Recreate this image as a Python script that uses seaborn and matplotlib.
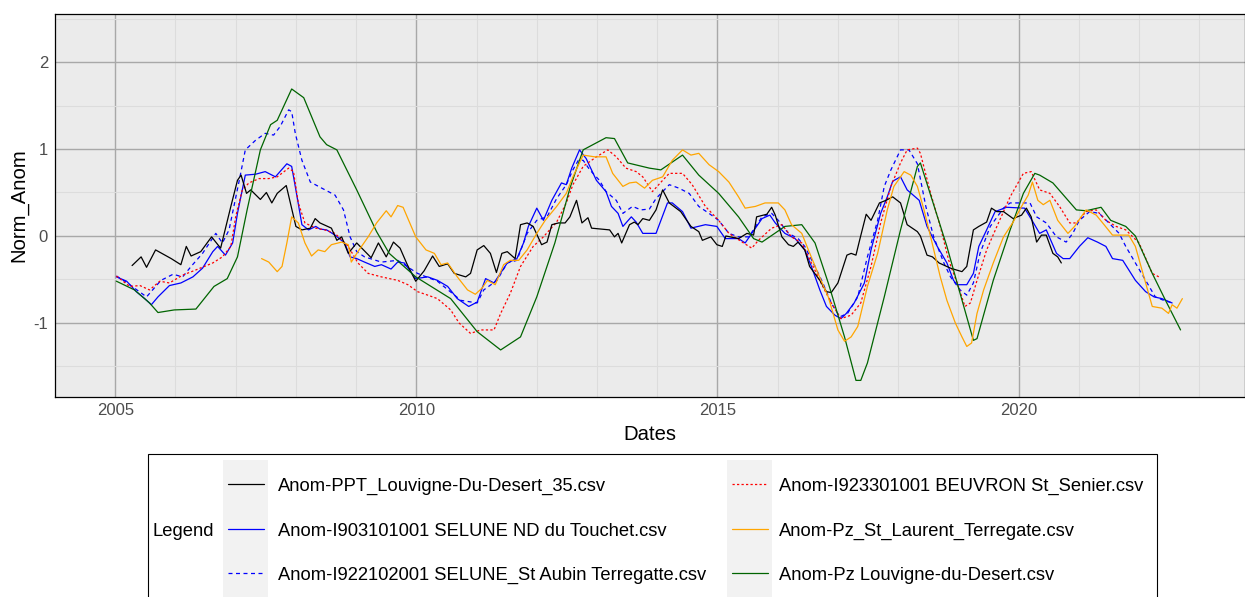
import numpy as np
import pandas as pd
import matplotlib
matplotlib.use("Agg")
import matplotlib.pyplot as plt
import seaborn as sns
from matplotlib.lines import Line2D
from matplotlib.patches import Rectangle

# ---------------- data (decimal years, normalised anomalies) ----------------
series_names = [
    "Anom-PPT_Louvigne-Du-Desert_35.csv",
    "Anom-I903101001 SELUNE ND du Touchet.csv",
    "Anom-I922102001 SELUNE_St Aubin Terregatte.csv",
    "Anom-I923301001 BEUVRON St_Senier.csv",
    "Anom-Pz_St_Laurent_Terregate.csv",
    "Anom-Pz Louvigne-du-Desert.csv",
]

ppt_x = [2005.28, 2005.43, 2005.52, 2005.67, 2005.93, 2006.09, 2006.18, 2006.26, 2006.42, 2006.60,
         2006.75, 2006.92, 2007.03, 2007.09, 2007.18, 2007.25, 2007.41, 2007.51, 2007.60, 2007.69,
         2007.84, 2008.00, 2008.10, 2008.24, 2008.32, 2008.40, 2008.59, 2008.68, 2008.76, 2008.87,
         2009.01, 2009.25, 2009.37, 2009.50, 2009.62, 2009.73, 2009.85, 2009.99, 2010.13, 2010.27,
         2010.38, 2010.52, 2010.63, 2010.82, 2010.90, 2011.01, 2011.12, 2011.23, 2011.33, 2011.42,
         2011.51, 2011.64, 2011.73, 2011.84, 2011.94, 2012.08, 2012.17, 2012.25, 2012.36, 2012.47,
         2012.55, 2012.66, 2012.75, 2012.85, 2012.91, 2013.21, 2013.29, 2013.35, 2013.41, 2013.54,
         2013.62, 2013.68, 2013.76, 2013.87, 2013.98, 2014.09, 2014.20, 2014.39, 2014.56, 2014.69,
         2014.75, 2014.89, 2014.99, 2015.08, 2015.14, 2015.35, 2015.49, 2015.60, 2015.65, 2015.82,
         2015.90, 2015.96, 2016.07, 2016.18, 2016.26, 2016.34, 2016.45, 2016.53, 2016.70, 2016.81,
         2016.89, 2017.00, 2017.15, 2017.22, 2017.30, 2017.36, 2017.47, 2017.55, 2017.69, 2017.80,
         2017.91, 2018.04, 2018.15, 2018.32, 2018.37, 2018.48, 2018.57, 2018.68, 2018.87, 2019.06,
         2019.14, 2019.25, 2019.34, 2019.47, 2019.55, 2019.64, 2019.75, 2019.91, 2020.05, 2020.13,
         2020.21, 2020.30, 2020.38, 2020.46, 2020.57, 2020.65, 2020.71]
ppt_y = [-0.34, -0.24, -0.36, -0.16, -0.26, -0.33, -0.12, -0.23, -0.18, -0.01,
         -0.14, 0.34, 0.64, 0.70, 0.49, 0.53, 0.42, 0.50, 0.38, 0.49,
         0.58, 0.11, 0.07, 0.09, 0.20, 0.15, 0.09, -0.05, -0.01, -0.20,
         -0.08, -0.25, -0.08, -0.24, -0.07, -0.14, -0.33, -0.52, -0.40, -0.23,
         -0.35, -0.32, -0.43, -0.47, -0.43, -0.16, -0.11, -0.20, -0.42, -0.20,
         -0.18, -0.26, 0.13, 0.15, 0.11, -0.10, -0.07, 0.13, 0.15, 0.15,
         0.22, 0.41, 0.15, 0.21, 0.09, 0.07, -0.01, 0.03, -0.08, 0.13,
         0.16, 0.13, 0.20, 0.18, 0.30, 0.53, 0.38, 0.28, 0.11, 0.05,
         -0.05, -0.01, -0.10, -0.12, 0.00, -0.03, 0.03, 0.01, 0.22, 0.25,
         0.33, 0.24, -0.01, -0.10, -0.12, -0.07, -0.16, -0.35, -0.51, -0.64,
         -0.65, -0.54, -0.22, -0.20, -0.22, -0.05, 0.25, 0.18, 0.38, 0.41,
         0.45, 0.38, 0.13, 0.05, 0.00, -0.22, -0.24, -0.31, -0.37, -0.41,
         -0.35, 0.07, 0.11, 0.16, 0.32, 0.28, 0.28, 0.20, 0.24, 0.32,
         0.22, -0.07, 0.01, 0.01, -0.20, -0.24, -0.31]

nd_x = [2005.02, 2005.19, 2005.35, 2005.49, 2005.60, 2005.71, 2005.90, 2006.09, 2006.29, 2006.45,
        2006.62, 2006.70, 2006.83, 2006.95, 2007.03, 2007.16, 2007.33, 2007.49, 2007.66, 2007.85,
        2007.93, 2008.02, 2008.10, 2008.21, 2008.33, 2008.40, 2008.51, 2008.65, 2008.81, 2008.90,
        2009.01, 2009.14, 2009.31, 2009.42, 2009.58, 2009.69, 2009.80, 2009.99, 2010.19, 2010.35,
        2010.52, 2010.68, 2010.87, 2011.01, 2011.15, 2011.29, 2011.51, 2011.67, 2011.78, 2011.86,
        2012.00, 2012.11, 2012.25, 2012.41, 2012.49, 2012.58, 2012.71, 2012.82, 2012.99, 2013.15,
        2013.24, 2013.35, 2013.43, 2013.57, 2013.65, 2013.76, 2013.98, 2014.17, 2014.25, 2014.42,
        2014.56, 2014.80, 2014.99, 2015.13, 2015.35, 2015.46, 2015.57, 2015.74, 2015.87, 2015.96,
        2016.12, 2016.29, 2016.45, 2016.56, 2016.70, 2016.81, 2016.95, 2017.05, 2017.14, 2017.27,
        2017.44, 2017.55, 2017.71, 2017.82, 2017.91, 2018.04, 2018.15, 2018.35, 2018.48, 2018.65,
        2018.81, 2018.92, 2018.98, 2019.14, 2019.25, 2019.34, 2019.47, 2019.61, 2019.80, 2020.10,
        2020.24, 2020.35, 2020.46, 2020.63, 2020.74, 2020.85, 2021.01, 2021.15, 2021.31, 2021.45,
        2021.56, 2021.73, 2021.94, 2022.11, 2022.25, 2022.38, 2022.55]
nd_y = [-0.47, -0.52, -0.64, -0.72, -0.79, -0.70, -0.57, -0.54, -0.47, -0.37,
        -0.18, -0.12, -0.22, -0.08, 0.26, 0.70, 0.71, 0.74, 0.68, 0.83,
        0.80, 0.45, 0.13, 0.07, 0.11, 0.08, 0.07, 0.01, -0.08, -0.24,
        -0.26, -0.30, -0.35, -0.33, -0.38, -0.30, -0.31, -0.49, -0.47, -0.51,
        -0.58, -0.72, -0.81, -0.76, -0.49, -0.54, -0.31, -0.26, -0.08, 0.11,
        0.32, 0.18, 0.41, 0.61, 0.59, 0.78, 0.99, 0.89, 0.64, 0.51,
        0.34, 0.26, 0.11, 0.22, 0.16, 0.03, 0.03, 0.38, 0.38, 0.28,
        0.09, 0.13, 0.11, -0.03, -0.03, -0.08, 0.03, 0.20, 0.24, 0.15,
        0.03, -0.03, -0.16, -0.35, -0.62, -0.81, -0.91, -0.95, -0.89, -0.77,
        -0.54, -0.16, 0.26, 0.45, 0.63, 0.68, 0.53, 0.41, 0.11, -0.12,
        -0.31, -0.51, -0.56, -0.56, -0.43, -0.12, 0.07, 0.28, 0.33, 0.32,
        0.16, 0.03, 0.07, -0.20, -0.26, -0.26, -0.12, -0.02, -0.07, -0.12,
        -0.26, -0.28, -0.51, -0.64, -0.70, -0.72, -0.77]

sa_x = [2005.02, 2005.18, 2005.52, 2005.76, 2005.96, 2006.12, 2006.26, 2006.45, 2006.67, 2006.78,
        2006.89, 2007.06, 2007.16, 2007.33, 2007.49, 2007.63, 2007.74, 2007.88, 2007.93, 2007.99,
        2008.10, 2008.24, 2008.43, 2008.65, 2008.79, 2008.90, 2009.01, 2009.14, 2009.42, 2009.69,
        2010.02, 2010.35, 2010.74, 2011.01, 2011.12, 2011.34, 2011.51, 2011.67, 2011.84, 2012.00,
        2012.17, 2012.33, 2012.49, 2012.60, 2012.69, 2012.77, 2012.88, 2013.04, 2013.15, 2013.32,
        2013.43, 2013.59, 2013.73, 2013.87, 2013.98, 2014.20, 2014.36, 2014.53, 2014.69, 2014.86,
        2015.02, 2015.19, 2015.35, 2015.52, 2015.74, 2015.90, 2016.01, 2016.18, 2016.34, 2016.45,
        2016.62, 2016.75, 2016.89, 2017.03, 2017.16, 2017.33, 2017.49, 2017.66, 2017.77, 2017.88,
        2018.04, 2018.18, 2018.32, 2018.46, 2018.59, 2018.76, 2018.87, 2019.03, 2019.14, 2019.25,
        2019.36, 2019.53, 2019.75, 2019.86, 2020.02, 2020.19, 2020.30, 2020.46, 2020.63, 2020.79,
        2020.90, 2021.01, 2021.18, 2021.34, 2021.50, 2021.67, 2021.78, 2021.94, 2022.11, 2022.27,
        2022.41, 2022.55]
sa_y = [-0.46, -0.53, -0.70, -0.51, -0.44, -0.47, -0.35, -0.20, 0.03, -0.08,
        0.07, 0.64, 0.99, 1.10, 1.18, 1.16, 1.26, 1.45, 1.43, 1.18,
        0.87, 0.62, 0.55, 0.47, 0.30, -0.01, -0.18, -0.24, -0.30, -0.28,
        -0.43, -0.52, -0.74, -0.77, -0.62, -0.51, -0.31, -0.28, 0.03, 0.18,
        0.22, 0.43, 0.59, 0.76, 0.87, 0.87, 0.76, 0.64, 0.51, 0.41,
        0.26, 0.34, 0.30, 0.31, 0.43, 0.59, 0.55, 0.49, 0.34, 0.26,
        0.18, 0.03, -0.01, -0.01, 0.22, 0.26, 0.18, 0.03, -0.03, -0.12,
        -0.35, -0.54, -0.77, -0.93, -0.89, -0.70, -0.24, 0.18, 0.57, 0.76,
        0.99, 0.99, 0.83, 0.34, -0.01, -0.31, -0.47, -0.62, -0.68, -0.54,
        -0.20, 0.11, 0.32, 0.38, 0.38, 0.38, 0.22, 0.15, -0.01, -0.07,
        0.03, 0.18, 0.28, 0.26, 0.15, 0.03, -0.12, -0.31, -0.51, -0.70,
        -0.74, -0.77]

bv_x = [2005.02, 2005.24, 2005.41, 2005.57, 2005.74, 2005.90, 2006.12, 2006.34, 2006.62, 2006.78,
        2006.92, 2007.00, 2007.11, 2007.22, 2007.39, 2007.55, 2007.69, 2007.88, 2007.96, 2008.04,
        2008.15, 2008.33, 2008.48, 2008.65, 2008.87, 2009.03, 2009.20, 2009.42, 2009.69, 2009.86,
        2010.02, 2010.19, 2010.35, 2010.57, 2010.71, 2010.90, 2011.07, 2011.29, 2011.40, 2011.56,
        2011.73, 2011.94, 2012.11, 2012.33, 2012.49, 2012.60, 2012.77, 2012.99, 2013.18, 2013.32,
        2013.48, 2013.65, 2013.76, 2013.92, 2014.09, 2014.20, 2014.42, 2014.58, 2014.80, 2015.02,
        2015.19, 2015.41, 2015.57, 2015.68, 2015.90, 2016.07, 2016.23, 2016.40, 2016.56, 2016.72,
        2016.89, 2017.05, 2017.22, 2017.38, 2017.55, 2017.71, 2017.88, 2018.04, 2018.15, 2018.32,
        2018.37, 2018.54, 2018.70, 2018.84, 2018.98, 2019.11, 2019.20, 2019.31, 2019.47, 2019.64,
        2019.86, 2020.08, 2020.21, 2020.35, 2020.52, 2020.68, 2020.85, 2020.96, 2021.12, 2021.29,
        2021.45, 2021.62, 2021.78, 2022.00, 2022.22, 2022.33]
bv_y = [-0.46, -0.58, -0.57, -0.62, -0.52, -0.54, -0.45, -0.39, -0.31, -0.24,
        -0.12, 0.22, 0.53, 0.61, 0.66, 0.66, 0.68, 0.78, 0.74, 0.38,
        0.15, 0.09, 0.07, 0.03, -0.12, -0.31, -0.43, -0.47, -0.51, -0.56,
        -0.64, -0.68, -0.72, -0.85, -1.00, -1.12, -1.08, -1.08, -0.89, -0.66,
        -0.35, -0.12, -0.01, 0.16, 0.38, 0.59, 0.80, 0.91, 0.99, 0.91,
        0.78, 0.74, 0.68, 0.51, 0.64, 0.72, 0.72, 0.59, 0.34, 0.18,
        0.03, -0.07, -0.14, -0.05, 0.09, 0.13, -0.01, -0.08, -0.31, -0.54,
        -0.77, -0.95, -0.91, -0.77, -0.35, 0.15, 0.57, 0.84, 0.99, 1.01,
        0.95, 0.49, 0.11, -0.28, -0.54, -0.81, -0.77, -0.51, -0.16, 0.11,
        0.45, 0.72, 0.74, 0.53, 0.49, 0.34, 0.15, 0.15, 0.28, 0.30,
        0.18, 0.11, 0.07, -0.08, -0.43, -0.47]

sl_x = [2007.43, 2007.55, 2007.69, 2007.77, 2007.85, 2007.93, 2008.04, 2008.15, 2008.26, 2008.37,
        2008.48, 2008.59, 2008.76, 2008.87, 2008.92, 2009.03, 2009.20, 2009.34, 2009.50, 2009.58,
        2009.69, 2009.78, 2009.99, 2010.16, 2010.30, 2010.41, 2010.52, 2010.68, 2010.85, 2010.98,
        2011.09, 2011.18, 2011.31, 2011.45, 2011.56, 2011.70, 2011.84, 2012.00, 2012.14, 2012.33,
        2012.49, 2012.60, 2012.77, 2012.96, 2013.15, 2013.26, 2013.43, 2013.54, 2013.65, 2013.79,
        2013.92, 2014.09, 2014.25, 2014.42, 2014.56, 2014.69, 2014.86, 2015.02, 2015.19, 2015.35,
        2015.46, 2015.63, 2015.79, 2016.01, 2016.12, 2016.23, 2016.40, 2016.51, 2016.67, 2016.84,
        2017.00, 2017.11, 2017.22, 2017.33, 2017.49, 2017.66, 2017.82, 2017.93, 2018.10, 2018.21,
        2018.32, 2018.43, 2018.54, 2018.70, 2018.81, 2018.95, 2019.06, 2019.14, 2019.22, 2019.31,
        2019.42, 2019.58, 2019.75, 2019.91, 2020.05, 2020.16, 2020.23, 2020.32, 2020.41, 2020.52,
        2020.65, 2020.82, 2020.93, 2021.12, 2021.29, 2021.42, 2021.56, 2021.83, 2021.94, 2022.11,
        2022.22, 2022.38, 2022.49, 2022.55, 2022.63, 2022.72]
sl_y = [-0.26, -0.30, -0.41, -0.35, -0.08, 0.22, 0.15, -0.08, -0.23, -0.16,
        -0.18, -0.10, -0.07, -0.10, -0.30, -0.18, -0.01, 0.15, 0.29, 0.22,
        0.35, 0.33, -0.01, -0.16, -0.20, -0.33, -0.31, -0.47, -0.62, -0.67,
        -0.60, -0.51, -0.56, -0.33, -0.28, -0.28, -0.16, 0.03, 0.18, 0.34,
        0.49, 0.68, 0.93, 0.91, 0.91, 0.72, 0.57, 0.61, 0.62, 0.55,
        0.64, 0.68, 0.87, 0.99, 0.93, 0.95, 0.82, 0.74, 0.62, 0.45,
        0.32, 0.34, 0.38, 0.38, 0.30, 0.13, 0.03, -0.16, -0.43, -0.70,
        -1.08, -1.21, -1.16, -1.04, -0.58, -0.20, 0.30, 0.57, 0.74, 0.70,
        0.57, 0.30, -0.01, -0.47, -0.74, -1.00, -1.16, -1.27, -1.23, -0.89,
        -0.62, -0.31, -0.01, 0.16, 0.34, 0.47, 0.62, 0.41, 0.36, 0.41,
        0.18, 0.03, 0.11, 0.30, 0.24, 0.13, 0.01, 0.01, -0.12, -0.54,
        -0.81, -0.83, -0.89, -0.79, -0.83, -0.72]

pz_x = [2005.02, 2005.32, 2005.57, 2005.71, 2005.98, 2006.34, 2006.64, 2006.86, 2007.03, 2007.19,
        2007.41, 2007.58, 2007.69, 2007.93, 2008.13, 2008.40, 2008.51, 2008.68, 2009.01, 2009.34,
        2009.55, 2009.99, 2010.57, 2011.01, 2011.40, 2011.73, 2012.00, 2012.30, 2012.55, 2012.77,
        2013.15, 2013.29, 2013.51, 2013.87, 2014.06, 2014.42, 2014.69, 2015.02, 2015.35, 2015.60,
        2015.74, 2016.12, 2016.40, 2016.62, 2016.84, 2017.11, 2017.30, 2017.38, 2017.49, 2017.77,
        2018.04, 2018.32, 2018.37, 2018.81, 2018.98, 2019.25, 2019.31, 2019.58, 2019.86, 2020.08,
        2020.27, 2020.35, 2020.57, 2020.96, 2021.12, 2021.37, 2021.53, 2021.78, 2021.94, 2022.22,
        2022.44, 2022.69]
pz_y = [-0.52, -0.62, -0.77, -0.88, -0.85, -0.84, -0.58, -0.49, -0.24, 0.30,
        0.99, 1.28, 1.33, 1.69, 1.59, 1.14, 1.05, 0.99, 0.53, 0.05,
        -0.20, -0.47, -0.72, -1.10, -1.31, -1.16, -0.70, -0.08, 0.55, 0.99,
        1.13, 1.12, 0.84, 0.78, 0.76, 0.93, 0.70, 0.49, 0.22, -0.03,
        -0.07, 0.11, 0.13, -0.08, -0.54, -1.16, -1.66, -1.66, -1.46, -0.70,
        0.07, 0.80, 0.84, -0.12, -0.54, -1.20, -1.18, -0.51, 0.07, 0.49,
        0.72, 0.70, 0.61, 0.30, 0.29, 0.33, 0.18, 0.11, 0.00, -0.43,
        -0.74, -1.08]

x_ticks = [2005, 2010, 2015, 2020]
x_tick_labels = ["2005", "2010", "2015", "2020"]
y_ticks = [-1, 0, 1, 2]
y_tick_labels = ["-1", "0", "1", "2"]

series_x = [ppt_x, nd_x, sa_x, bv_x, sl_x, pz_x]
series_y = [ppt_y, nd_y, sa_y, bv_y, sl_y, pz_y]

frames = []
for name, xs, ys in zip(series_names, series_x, series_y):
    frames.append(pd.DataFrame({"Dates": xs, "Norm_Anom": ys, "Legend": name}))
df = pd.concat(frames, ignore_index=True)

# ---------------- styling ----------------
colors = ["#000000", "#0000FF", "#0000FF", "#FF0000", "#FFA500", "#006400"]
dashes = [None, None, (3.2, 2.8), (1.8, 1.8), None, None]
LW = 0.9

sns.set_theme(style="darkgrid")
plt.rcParams["font.family"] = ["Liberation Sans", "DejaVu Sans"]

W, H = 1245, 597
fig = plt.figure(figsize=(W / 100, H / 100), dpi=100)
fig.patch.set_facecolor("white")


def fx(px):
    return px / W


def fy(py):
    return 1 - py / H


ax = fig.add_axes([fx(55), fy(397), fx(1245) - fx(55), fy(14) - fy(397)])
ax.set_facecolor("#EBEBEB")

draw_order = [1, 2, 3, 0, 5, 4]
for i in draw_order:
    sub = df[df["Legend"] == series_names[i]]
    kws = {}
    if dashes[i] is not None:
        kws["linestyle"] = (0, dashes[i])
    sns.lineplot(data=sub, x="Dates", y="Norm_Anom", ax=ax, color=colors[i],
                 linewidth=LW, estimator=None, sort=False, legend=False, **kws)

ax.set_xlim(2004.14, 2023.76)
ax.set_ylim(-1.851, 2.552)
ax.set_xticks(x_ticks)
ax.set_xticklabels(x_tick_labels)
ax.set_xticks(np.arange(2004, 2024), minor=True)
ax.set_yticks(y_ticks)
ax.set_yticklabels(y_tick_labels)
ax.set_yticks([-1.5, -0.5, 0.5, 1.5, 2.5], minor=True)
ax.set_axisbelow(True)
ax.grid(which="major", color="#A8A8A8", linewidth=1.0)
ax.grid(which="minor", color="#DCDCDC", linewidth=0.8)
ax.tick_params(which="minor", length=0)
ax.tick_params(which="major", length=3.0, width=0.8, color="#333333",
               labelcolor="#4D4D4D", labelsize=12)
ax.tick_params(axis="x", pad=1.5)
ax.tick_params(axis="y", pad=2.0)
for sp in ax.spines.values():
    sp.set_visible(True)
    sp.set_color("black")
    sp.set_linewidth(0.9)
ax.set_xlabel("")
ax.set_ylabel("")

fig.text(fx(650), fy(440), "Dates", ha="center", va="baseline", fontsize=14.6, color="black")
fig.text(fx(19), fy(205.5), "Norm_Anom", ha="center", va="center", rotation=90,
         fontsize=14.6, color="black")

# ---------------- legend (title on the left, two columns) ----------------
fig.add_artist(Rectangle((fx(147.5), fy(610)), fx(1157) - fx(147.5), fy(454) - fy(610),
                         transform=fig.transFigure, fill=False, edgecolor="black",
                         linewidth=0.8, clip_on=False))
for kx0, kx1 in [(223, 268), (727, 772)]:
    fig.add_artist(Rectangle((fx(kx0), fy(610)), fx(kx1) - fx(kx0), fy(460) - fy(610),
                             transform=fig.transFigure, facecolor="#F2F2F2",
                             edgecolor="none", clip_on=False))
fig.text(fx(153), fy(536), "Legend", ha="left", va="baseline", fontsize=13.2, color="black")

rows = [484, 528.5, 573]
for i, name in enumerate(series_names):
    col, row = divmod(i, 3)
    lx0, lx1, tx = (228, 264, 278) if col == 0 else (732, 768, 779)
    ry = rows[row]
    ln = Line2D([fx(lx0), fx(lx1)], [fy(ry), fy(ry)], transform=fig.transFigure,
                color=colors[i], linewidth=LW)
    if dashes[i] is not None:
        ln.set_linestyle((0, dashes[i]))
    fig.add_artist(ln)
    fig.text(fx(tx), fy(ry + 7), name, ha="left", va="baseline", fontsize=13.2, color="black")

fig.savefig("out.png", dpi=100)
